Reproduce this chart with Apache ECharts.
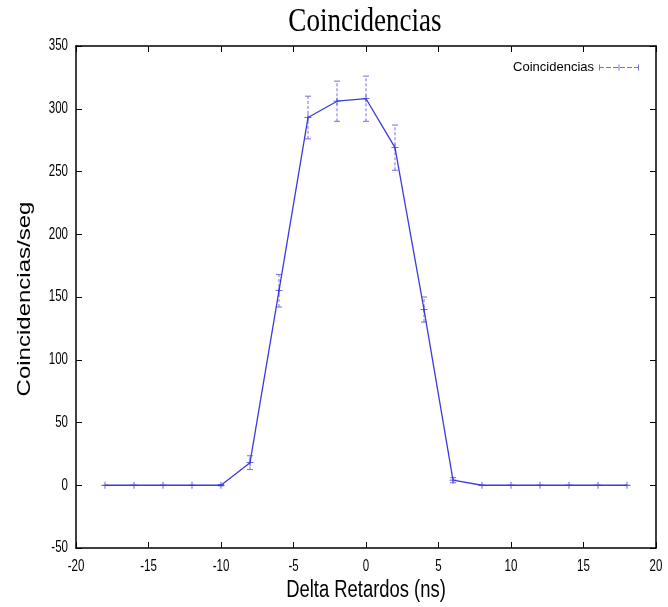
<!DOCTYPE html>
<html>
<head>
<meta charset="utf-8">
<script src="https://cdn.jsdelivr.net/npm/echarts@6/dist/echarts.min.js"></script>
<style>
  html, body { margin: 0; padding: 0; background: #fff; }
  #chart { width: 668px; height: 607px; }
</style>
</head>
<body>
<div id="chart"></div>
<script>
// Delay between detectors (ns)
const delays = [-18, -16, -14, -12, -10, -8, -6, -4, -2, 0, 2, 4, 6, 8, 10, 12, 14, 16, 18];
// Coincidence rate (counts per second)
const rates = [0, 0, 0, 0, 0, 18, 155, 293, 306, 308, 269, 140, 4, 0, 0, 0, 0, 0, 0];
// Uncertainty on each rate
const errors = [0, 0, 0, 0, 0.5, 5.5, 13, 17, 16, 18, 18, 10, 2, 0, 0, 0, 0, 0, 0];

// Tick labels on both axes
const xTicks = [-20, -15, -10, -5, 0, 5, 10, 15, 20];
const yTicks = [-50, 0, 50, 100, 150, 200, 250, 300, 350];

const titleText = 'Coincidencias';
const xTitle = 'Delta Retardos (ns)';
const yTitle = 'Coincidencias/seg';
const seriesName = 'Coincidencias';

const lineColor = '#3b3bdc';
const barColor = '#6f6fe6';
const sansFont = '"Liberation Sans", Arial, sans-serif';
const serifFont = '"Liberation Serif", "Times New Roman", serif';

const points = delays.map((x, i) => [x, rates[i]]);
const errData = delays.map((x, i) => [x, rates[i] - errors[i], rates[i] + errors[i]]);

const plusIcon = 'path://M4,0 L5,0 L5,9 L4,9 Z M0,4 L9,4 L9,5 L0,5 Z';
const legendIcon = 'path://M0,3.5 L5,3.5 L5,4.5 L0,4.5 Z M7,3.5 L12,3.5 L12,4.5 L7,4.5 Z M14,3.5 L19,3.5 L19,4.5 L14,4.5 Z M21,3.5 L26,3.5 L26,4.5 L21,4.5 Z M28,3.5 L33,3.5 L33,4.5 L28,4.5 Z M35,3.5 L40,3.5 L40,4.5 L35,4.5 Z M0,1 L1,1 L1,7 L0,7 Z M39,1 L40,1 L40,7 L39,7 Z M19.5,1 L20.5,1 L20.5,7 L19.5,7 Z';

const axisCommon = {
  axisLine: { show: true, onZero: false, lineStyle: { color: '#000', width: 1.5 } },
  axisTick: { show: true, inside: true, length: 6, lineStyle: { color: '#000', width: 1 } },
  axisLabel: { show: false },
  splitLine: { show: false }
};

const grid = { left: 76, right: 12, top: 46, bottom: 59 };
const W = 668, H = 607;
const plotCx = grid.left + (W - grid.left - grid.right) / 2;
const plotCy = grid.top + (H - grid.top - grid.bottom) / 2;
const plotBottom = H - grid.bottom;

// Narrow text, as the labels use a condensed face
function narrowText(text, x, y, size, family, align, extra) {
  return Object.assign({
    type: 'text', x: x, y: y, scaleX: 0.72,
    style: { text: text, x: 0, y: 0, font: size + 'px ' + family, fill: '#000', textAlign: align, textVerticalAlign: 'middle' }
  }, extra || {});
}

const chart = echarts.init(document.getElementById('chart'));
chart.setOption({
  animation: false,
  backgroundColor: '#fff',
  legend: {
    right: 24,
    top: 56,
    itemWidth: 40,
    itemHeight: 8,
    itemGap: 6,
    align: 'right',
    data: [{ name: seriesName, icon: legendIcon, itemStyle: { color: barColor } }],
    textStyle: { fontFamily: sansFont, fontSize: 13, color: '#000' }
  },
  grid: grid,
  xAxis: [
    Object.assign({ type: 'value', min: -20, max: 20, interval: 5 }, axisCommon),
    Object.assign({ type: 'value', position: 'top', min: -20, max: 20, interval: 5 }, axisCommon)
  ],
  yAxis: [
    Object.assign({ type: 'value', min: -50, max: 350, interval: 50 }, axisCommon),
    Object.assign({ type: 'value', position: 'right', min: -50, max: 350, interval: 50 }, axisCommon)
  ],
  series: [
    {
      name: seriesName,
      type: 'line',
      data: points,
      color: lineColor,
      lineStyle: { color: lineColor, width: 1.3 },
      symbol: plusIcon,
      symbolSize: 7,
      itemStyle: { color: lineColor },
      z: 3
    },
    {
      name: seriesName,
      type: 'custom',
      data: errData,
      z: 2,
      renderItem: function (params, api) {
        const x = api.value(0);
        const lo = api.coord([x, api.value(1)]);
        const hi = api.coord([x, api.value(2)]);
        if (Math.abs(hi[1] - lo[1]) < 1) return null;
        const cap = 3;
        const style = { stroke: barColor, lineWidth: 1 };
        return {
          type: 'group',
          children: [
            { type: 'line', shape: { x1: lo[0], y1: lo[1], x2: hi[0], y2: hi[1] }, style: Object.assign({ lineDash: [3, 2] }, style) },
            { type: 'line', shape: { x1: lo[0] - cap, y1: lo[1], x2: lo[0] + cap, y2: lo[1] }, style: style },
            { type: 'line', shape: { x1: hi[0] - cap, y1: hi[1], x2: hi[0] + cap, y2: hi[1] }, style: style }
          ]
        };
      }
    }
  ]
});

// Tick labels placed through the axes' own scales
const labels = [];
xTicks.forEach(v => {
  const px = chart.convertToPixel({ xAxisIndex: 0 }, v);
  labels.push(narrowText(String(v), px, plotBottom + 19, 16, sansFont, 'center'));
});
yTicks.forEach(v => {
  const py = chart.convertToPixel({ yAxisIndex: 0 }, v);
  labels.push(narrowText(String(v), grid.left - 8, py, 16, sansFont, 'right'));
});

// Titles
labels.push({
  type: 'text', x: plotCx - 1, y: 22, scaleX: 0.82,
  style: { text: titleText, x: 0, y: 0, font: '33px ' + serifFont, fill: '#000', textAlign: 'center', textVerticalAlign: 'middle' }
});
labels.push(narrowText(xTitle, plotCx, 591, 23, sansFont, 'center', { scaleX: 0.8 }));
labels.push({
  type: 'text', x: 25, y: plotCy + 2, rotation: Math.PI / 2, scaleY: 0.76,
  style: { text: yTitle, x: 0, y: 0, font: '24px ' + sansFont, fill: '#000', textAlign: 'center', textVerticalAlign: 'middle' }
});

chart.setOption({ graphic: labels });
</script>
</body>
</html>
